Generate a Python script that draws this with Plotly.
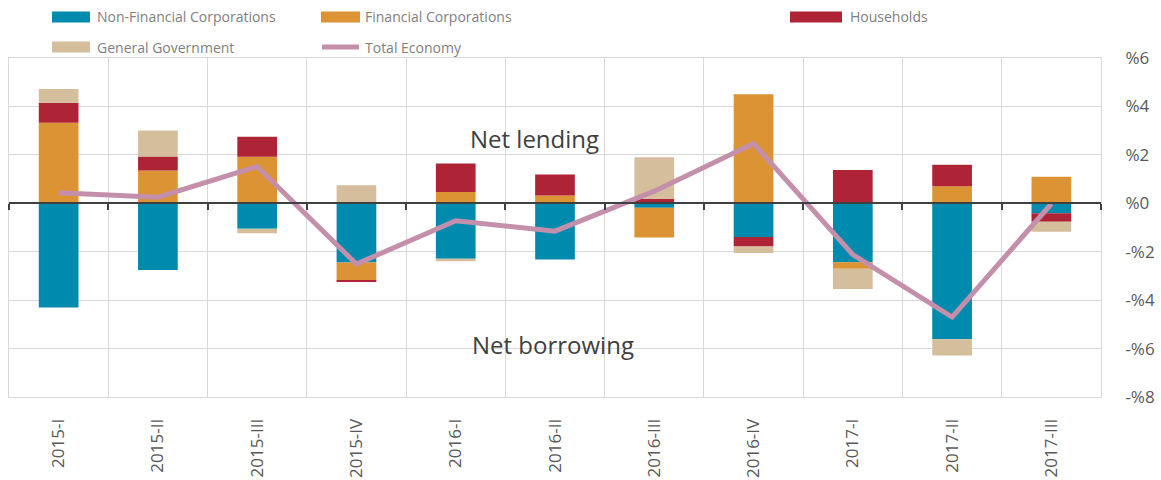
import plotly.graph_objects as go

quarters = ["2015-I", "2015-II", "2015-III", "2015-IV", "2016-I", "2016-II",
            "2016-III", "2016-IV", "2017-I", "2017-II", "2017-III"]
nfc = [-4.30, -2.76, -1.05, -2.45, -2.29, -2.32, -0.18, -1.39, -2.43, -5.61, -0.41]
fin = [3.33, 1.35, 1.92, -0.75, 0.47, 0.32, -1.23, 4.50, -0.27, 0.70, 1.10]
hh = [0.82, 0.58, 0.83, -0.05, 1.17, 0.87, 0.19, -0.39, 1.37, 0.89, -0.35]
gg = [0.57, 1.08, -0.19, 0.75, -0.10, 0.00, 1.71, -0.27, -0.84, -0.68, -0.42]
total = [0.43, 0.25, 1.52, -2.51, -0.72, -1.15, 0.50, 2.47, -2.12, -4.70, -0.02]

series_names = ["Non-Financial Corporations", "Financial Corporations", "Households",
                "General Government", "Total Economy"]
colors = ["#008BAE", "#DB9333", "#AE2436", "#D5BE9B", "#C48FAB"]
y_ticks = [6, 4, 2, 0, -2, -4, -6, -8]
y_labels = [("-%" if v < 0 else "%") + str(abs(v)) for v in y_ticks]

FONT = "Open Sans"
W, H = 1161, 480
L, R, T, B = 9, 1101, 58, 397

fig = go.Figure()
for name, vals, col in zip(series_names[:4], [nfc, fin, hh, gg], colors[:4]):
    fig.add_trace(go.Bar(x=quarters, y=vals, name=name, marker_color=col,
                         marker_line_width=0, showlegend=False))
fig.add_trace(go.Scatter(x=quarters, y=total, name=series_names[4], mode="lines",
                         line=dict(color=colors[4], width=5), showlegend=False,
                         xaxis="x2"))

zero_frac = (0 - y_ticks[-1]) / (y_ticks[0] - y_ticks[-1])

fig.update_layout(
    width=W, height=H,
    margin=dict(l=L, r=W - R, t=T, b=H - B, autoexpand=False),
    plot_bgcolor="white", paper_bgcolor="white",
    barmode="relative", bargap=0.6,
    font=dict(family=FONT, color="#595959"),
    xaxis=dict(type="category", tickson="boundaries", showgrid=True,
               gridcolor="#D9D9D9", gridwidth=1, ticks="", tickangle=-90,
               tickfont=dict(size=17, color="#595959"), ticklabelstandoff=14,
               showline=True, linecolor="#D9D9D9", linewidth=1, mirror=True,
               zeroline=False, automargin=False),
    xaxis2=dict(matches="x", overlaying="x", anchor="free", position=zero_frac,
                tickson="boundaries", showgrid=False, ticks="outside", ticklen=6,
                tickwidth=2, tickcolor="#404040", showticklabels=False,
                showline=True, linecolor="#404040", linewidth=2, zeroline=False,
                automargin=False),
    yaxis=dict(side="right", range=[y_ticks[-1], y_ticks[0]], tickvals=y_ticks,
               ticktext=y_labels, showgrid=True, gridcolor="#D9D9D9", gridwidth=1,
               zeroline=False, showline=True, linecolor="#D9D9D9", mirror=True,
               tickfont=dict(size=17, color="#595959"), ticks="",
               ticklabelstandoff=20, automargin=False),
)


def px(x):
    return (x - L) / (R - L)


def py(y):
    return (B - y) / (B - T)


# region labels
fig.add_annotation(x=px(534), y=py(138), xref="paper", yref="paper",
                   xanchor="center", yanchor="middle",
                   text="Net lending", showarrow=False,
                   font=dict(size=24, color="#404040", family=FONT))
fig.add_annotation(x=px(553), y=py(344), xref="paper", yref="paper",
                   xanchor="center", yanchor="middle",
                   text="Net borrowing", showarrow=False,
                   font=dict(size=24, color="#404040", family=FONT))

# legend
legend_items = [
    (0, 52, 90, 95, 17), (1, 321, 360, 363, 17), (2, 790, 842, 848, 17),
    (3, 52, 90, 95, 47), (4, 320, 361, 363, 47),
]
for idx, x0, x1, xt, yc in legend_items:
    if idx < 4:
        fig.add_shape(type="rect", xref="paper", yref="paper",
                      x0=px(x0), x1=px(x1), y0=py(yc + 5.5), y1=py(yc - 5.5),
                      fillcolor=colors[idx], line_width=0)
    else:
        fig.add_shape(type="line", xref="paper", yref="paper",
                      x0=px(x0 + 2), x1=px(x1 - 2), y0=py(yc), y1=py(yc),
                      line=dict(color=colors[idx], width=5))
    fig.add_annotation(x=px(xt), y=py(yc), xref="paper", yref="paper",
                       xanchor="left", yanchor="middle", showarrow=False,
                       text=series_names[idx],
                       font=dict(size=14, color="#808080", family=FONT))

fig.write_html("out.html", config={"displayModeBar": False},
               post_script="document.body.style.margin='0';document.body.style.overflow='hidden';")
